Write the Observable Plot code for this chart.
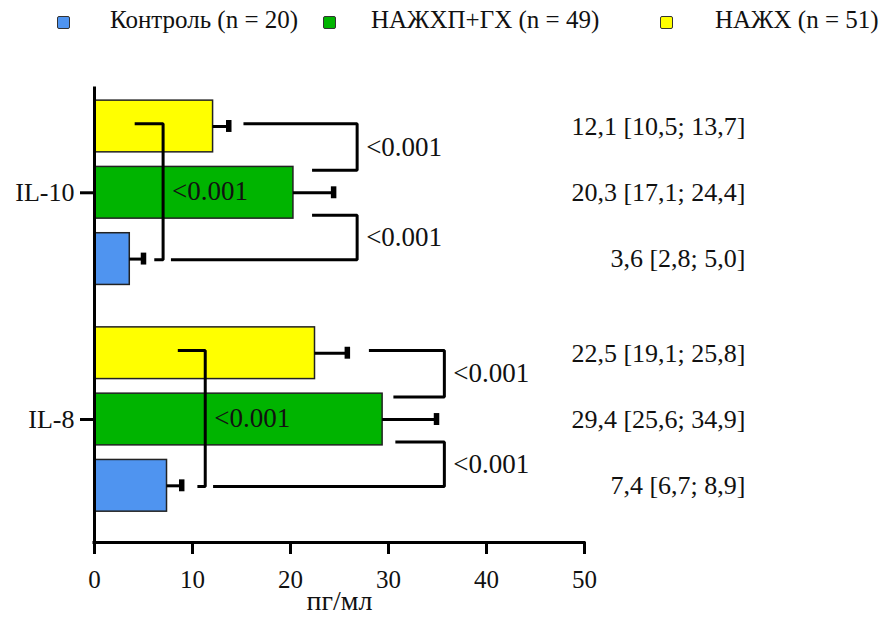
<!DOCTYPE html>
<html>
<head>
<meta charset="utf-8">
<script src="https://cdn.jsdelivr.net/npm/d3@7"></script>
<script src="https://cdn.jsdelivr.net/npm/@observablehq/plot@0.6"></script>
<style>
  html, body { margin: 0; padding: 0; background: #fff; }
  #legend { position: relative; width: 890px; height: 45px; font-family: "Liberation Serif", "Times New Roman", serif; font-size: 25px; color: #111; }
  #legend .sw { position: absolute; top: 16px; width: 11px; height: 11px; border: 1.5px solid #333; border-radius: 2px; }
  #legend .lb { position: absolute; top: 7px; line-height: 25px; white-space: nowrap; }
  #chart svg text { font-family: "Liberation Serif", "Times New Roman", serif; }
  #chart g[aria-label^="x-axis"] line, #chart g[aria-label^="x-axis"] path,
  #chart g[aria-label^="y-axis"] line, #chart g[aria-label^="y-axis"] path { stroke-width: 3px; stroke: #000; }
  #chart g[aria-label^="x-axis"] text { font-size: 25px; }
  #chart g[aria-label^="y-axis"] text { font-size: 26px; }
</style>
</head>
<body>
<div id="legend"></div>
<div id="chart"></div>
<script>
// ---- data ----
const groups = ["IL-10", "IL-8"];
const seriesNames = ["НАЖХ (n = 51)", "НАЖХП+ГХ (n = 49)", "Контроль (n = 20)"]; // top to bottom in each group
const seriesColors = ["#ffff00", "#00b400", "#4f94f0"];
const legendOrder = ["Контроль (n = 20)", "НАЖХП+ГХ (n = 49)", "НАЖХ (n = 51)"];

const medianIL10 = [12.1, 20.3, 3.6];
const q1IL10 = [10.5, 17.1, 2.8];
const q3IL10 = [13.7, 24.4, 5.0];
const medianIL8 = [22.5, 29.4, 7.4];
const q1IL8 = [19.1, 25.6, 6.7];
const q3IL8 = [25.8, 34.9, 8.9];

const xTicks = [0, 10, 20, 30, 40, 50];
const xLabel = "пг/мл";

// significance brackets (x in пг/мл, rows = series index within group)
const bracketGroup = ["IL-10", "IL-10", "IL-10", "IL-8", "IL-8", "IL-8"];
const bracketTopRow = [0, 1, 0, 0, 1, 0];
const bracketBottomRow = [1, 2, 2, 1, 2, 2];
const bracketTopX = [15.2, 22.2, 4.1, 28.0, 30.7, 8.5];
const bracketBottomX = [22.2, 7.8, 6.1, 30.5, 12.1, 10.5];
const bracketVertX = [26.8, 26.8, 7.0, 35.7, 35.7, 11.3];
const bracketP = ["<0.001", "<0.001", "<0.001", "<0.001", "<0.001", "<0.001"];

// ---- layout helpers ----
const GROUP_STEP = 3.42;
const HALF = 0.39;
const yDomain = [-0.573, 6.275];
const fmt = v => v.toFixed(1).replace(".", ",");

const medians = [medianIL10, medianIL8], q1s = [q1IL10, q1IL8], q3s = [q3IL10, q3IL8];
const rows = [];
groups.forEach((g, gi) => {
  seriesNames.forEach((s, si) => {
    rows.push({
      group: g, series: s,
      median: medians[gi][si], q1: q1s[gi][si], q3: q3s[gi][si],
      pos: gi * GROUP_STEP + si,
      label: `${fmt(medians[gi][si])} [${fmt(q1s[gi][si])}; ${fmt(q3s[gi][si])}]`
    });
  });
});
const groupTicks = groups.map((g, gi) => gi * GROUP_STEP + 1);

const bracketPts = [];
const bracketLabels = [];
bracketGroup.forEach((g, i) => {
  const base = groups.indexOf(g) * GROUP_STEP;
  const tr = bracketTopRow[i], br = bracketBottomRow[i];
  const yTop = base + tr + (tr === 1 ? 0.34 : -0.04);
  const yBot = base + br + (br === 1 ? -0.34 : 0.01);
  bracketPts.push(
    {id: i, x: bracketTopX[i], y: yTop},
    {id: i, x: bracketVertX[i], y: yTop},
    {id: i, x: bracketVertX[i], y: yBot},
    {id: i, x: bracketBottomX[i], y: yBot}
  );
  bracketLabels.push({x: bracketVertX[i], y: (yTop + yBot) / 2, text: bracketP[i]});
});

// ---- legend ----
const legendSw = [57, 323, 660];
const legendTx = [110, 371, 715];
const legend = document.getElementById("legend");
legendOrder.forEach((name, i) => {
  const sw = document.createElement("div");
  sw.className = "sw";
  sw.style.left = legendSw[i] + "px";
  sw.style.background = seriesColors[seriesNames.indexOf(name)];
  legend.appendChild(sw);
  const lb = document.createElement("div");
  lb.className = "lb";
  lb.style.left = legendTx[i] + "px";
  lb.textContent = name;
  legend.appendChild(lb);
});

// ---- chart ----
const chart = Plot.plot({
  width: 890,
  height: 572,
  marginLeft: 94,
  marginRight: 306,
  marginTop: 43,
  marginBottom: 75,
  style: {fontFamily: "Liberation Serif, Times New Roman, serif", fontSize: "25px", color: "#111", background: "#fff"},
  x: {domain: [0, 50], ticks: xTicks, tickSize: 12, tickPadding: 16, label: null},
  y: {domain: yDomain, reverse: true, ticks: groupTicks, tickFormat: d => groups[groupTicks.indexOf(d)] ?? "", tickSize: 14, tickPadding: 6, label: null},
  color: {domain: seriesNames, range: seriesColors},
  marks: [
    Plot.rect(rows, {x1: 0, x2: "median", y1: d => d.pos - HALF, y2: d => d.pos + HALF, fill: "series", stroke: "#222", strokeWidth: 1.5}),
    Plot.ruleY(rows, {y: "pos", x1: "median", x2: "q3", stroke: "#000", strokeWidth: 3}),
    Plot.ruleX(rows, {x: "q3", y1: d => d.pos - 0.09, y2: d => d.pos + 0.09, stroke: "#000", strokeWidth: 5.5}),
    Plot.line(bracketPts, {x: "x", y: "y", z: "id", stroke: "#000", strokeWidth: 3, strokeLinejoin: "miter", strokeLinecap: "butt"}),
    Plot.text(bracketLabels, {x: "x", y: "y", text: "text", dx: 9, textAnchor: "start", fontSize: 27, fill: "#111"}),
    Plot.text(rows, {y: "pos", text: "label", frameAnchor: "right", textAnchor: "end", dx: 161, fontSize: 26, fill: "#111"}),
    Plot.text([xLabel], {text: d => d, frameAnchor: "bottom", dy: 67, fontSize: 28, fill: "#111"}),
    Plot.ruleX([0], {stroke: "#000", strokeWidth: 3, strokeLinecap: "square"}),
    Plot.ruleY([yDomain[1]], {stroke: "#000", strokeWidth: 3, strokeLinecap: "square"})
  ]
});
document.getElementById("chart").appendChild(chart);
</script>
</body>
</html>
